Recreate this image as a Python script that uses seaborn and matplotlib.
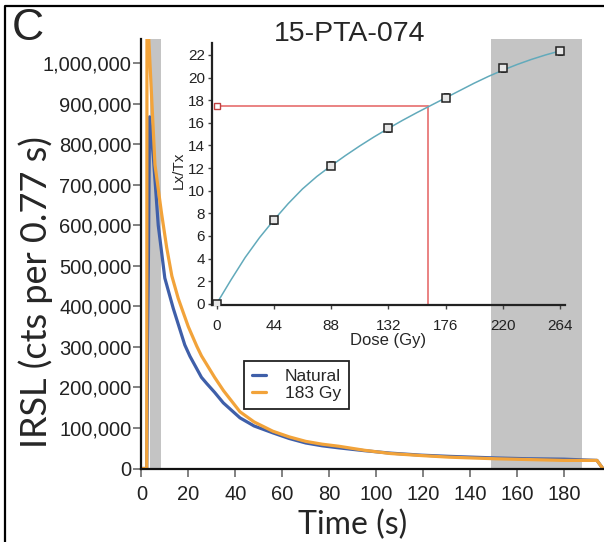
import pandas as pd
import matplotlib.pyplot as plt
import seaborn as sns
from matplotlib.lines import Line2D
from matplotlib.ticker import FuncFormatter

# IRSL decay curves
nat_time = [0, 2.3, 3.5, 5.1, 7.2, 8.0, 10.0, 13.6, 18.5, 20.7, 25.6, 27.8, 31.2, 34.9,
            42.0, 48.0, 56.0, 63.0, 70.0, 77.0, 84.0, 95.0, 106.0, 119.0, 131.0, 151.0,
            165.0, 180.0, 194.0, 196.5]
nat_counts = [0, 0, 868000, 770000, 600000, 563000, 470000, 395000, 305000, 277000, 225000,
              210000, 188000, 162000, 125000, 105000, 88000, 74000, 63000, 56000, 51000,
              44000, 38000, 33000, 30000, 26000, 24000, 23000, 20000, 0]
gy_time = [0, 2.3, 2.4, 5.8, 8.6, 10.8, 13.0, 15.7, 17.9, 20.0, 23.6, 25.6, 31.2, 35.0,
           42.0, 48.0, 56.0, 63.0, 70.0, 77.0, 84.0, 95.0, 106.0, 119.0, 131.0, 151.0,
           180.0, 194.0, 196.5]
gy_counts = [0, 0, 1150000, 750000, 630000, 545000, 475000, 420000, 384000, 350000, 302000,
             278000, 225000, 192000, 140000, 115000, 92000, 78000, 67000, 60000, 55000,
             45000, 37000, 32000, 28000, 24000, 20000, 20000, 0]
series_names = ['Natural', '183 Gy']
signal_window = (3.8, 8.3)
background_window = (149, 187.5)

# dose response (inset)
doses = [0, 44, 88, 132, 176, 220, 264]
lxtx = [0, 7.4, 12.2, 15.5, 18.2, 20.8, 22.3]
lxtx_err = [0.2, 0.3, 0.3, 0.3, 0.3, 0.3, 0.3]
fit_dose = [0, 11, 22, 33, 44, 55, 66, 77, 88, 99, 110, 121, 132, 143, 154, 165, 176,
            187, 198, 209, 220, 231, 242, 253, 264]
fit_lxtx = [0, 2.1, 4.1, 5.85, 7.4, 8.85, 10.15, 11.25, 12.2, 13.1, 13.95, 14.75, 15.5,
            16.22, 16.9, 17.55, 18.2, 18.85, 19.5, 20.1, 20.65, 21.15, 21.6, 22.0, 22.35]
natural_lxtx = 17.5
equiv_dose = 162.7

sns.set_theme(style='white')
plt.rcParams['font.family'] = ['Liberation Sans', 'DejaVu Sans']

blue = '#3f5fa9'
orange = '#f2a33a'
grey = '#c4c4c4'

df = pd.concat([
    pd.DataFrame({'Time': nat_time, 'IRSL': nat_counts, 'Sample': series_names[0]}),
    pd.DataFrame({'Time': gy_time, 'IRSL': gy_counts, 'Sample': series_names[1]}),
])

fig = plt.figure(figsize=(6.04, 5.42), dpi=100)
ax = fig.add_axes([0.234, 0.1356, 0.766, 0.7924])

ax.axvspan(*signal_window, color=grey, lw=0, zorder=0)
ax.axvspan(*background_window, color=grey, lw=0, zorder=0)
sns.lineplot(data=df, x='Time', y='IRSL', hue='Sample', palette=[blue, orange],
             estimator=None, sort=False, lw=2.3, ax=ax)

ax.set_xlim(0, 197)
ax.set_ylim(0, 1060000)
ax.set_xticks(range(0, 181, 20))
ax.set_yticks(range(0, 1000001, 100000))
ax.yaxis.set_major_formatter(FuncFormatter(lambda v, p: f'{int(v):,}'))
ax.tick_params(axis='both', which='major', direction='out', length=6, width=1.3,
               color='#777777', labelsize=14.5, labelcolor='#222222', pad=1,
               bottom=True, left=True)
ax.tick_params(axis='x', pad=6)
for s in ['top', 'right']:
    ax.spines[s].set_visible(False)
for s in ['left', 'bottom']:
    ax.spines[s].set_color('#111111')
    ax.spines[s].set_linewidth(1.6)

ax.set_xlabel('Time (s)', fontsize=23, family=['Lato', 'DejaVu Sans'])
ax.set_ylabel('IRSL (cts per 0.77 s)', fontsize=26, family=['Lato', 'DejaVu Sans'])
ax.xaxis.set_label_coords(0.4575, -0.095)
ax.yaxis.set_label_coords(-0.19, 0.41)

handles, labels = ax.get_legend_handles_labels()
ax.legend(handles, labels, loc='upper left', bbox_to_anchor=(244 / 604, 1 - 361 / 542),
          bbox_transform=fig.transFigure, borderaxespad=0, fontsize=12.5,
          handlelength=0.8, handletextpad=1.1, labelspacing=0.1, borderpad=0.45,
          frameon=True, fancybox=False, edgecolor='#222222', framealpha=1)
ax.get_legend().get_frame().set_linewidth(1.3)

# inset: dose response curve
axi = fig.add_axes([212 / 604, 1 - 305 / 542, (565 - 212) / 604, (305 - 43) / 542])
axi.set_facecolor('none')
axi.plot([0, equiv_dose], [natural_lxtx, natural_lxtx], color='#e87878', lw=1.3, zorder=1)
axi.plot([equiv_dose, equiv_dose], [0, natural_lxtx], color='#e87878', lw=1.3, zorder=1)
sns.lineplot(x=fit_dose, y=fit_lxtx, color='#62aabb', lw=1.1, ax=axi, zorder=2)
axi.errorbar(doses, lxtx, yerr=lxtx_err, fmt='s', ms=5.5, mfc='#e6e6e6', mec='#222222',
             mew=1.1, ecolor='#222222', elinewidth=0.8, capsize=1.8, zorder=3)
axi.plot([0], [natural_lxtx], marker='s', ms=4, mfc='white', mec='#c04040', mew=1, zorder=4)

axi.set_xlim(-3.5, 267.8)
axi.set_ylim(-0.1, 23.05)
axi.set_xticks(doses)
axi.set_yticks(range(0, 23, 2))
axi.tick_params(axis='both', direction='out', length=3, width=1, color='#444444',
                labelsize=11, labelcolor='#222222', bottom=True, left=True)
axi.tick_params(axis='x', pad=7)
axi.tick_params(axis='y', pad=2)
for s in ['top', 'right']:
    axi.spines[s].set_visible(False)
for s in ['left', 'bottom']:
    axi.spines[s].set_color('#222222')
    axi.spines[s].set_linewidth(1.6)
axi.set_xlabel('Dose (Gy)', fontsize=12, labelpad=0)
axi.set_ylabel('Lx/Tx', fontsize=11)
axi.yaxis.set_label_coords(-0.075, 0.515)

fig.text(28 / 604, 1 - 28 / 542, 'C', fontsize=32, ha='center', va='center')
fig.text(350 / 604, 1 - 34 / 542, '15-PTA-074', fontsize=20.5, ha='center', va='center')

# panel frame
fig.add_artist(Line2D([5 / 604, 5 / 604, 1], [0, 1 - 6 / 542, 1 - 6 / 542],
                      transform=fig.transFigure, color='black', lw=1.6))

fig.savefig('out.png', dpi=100)
